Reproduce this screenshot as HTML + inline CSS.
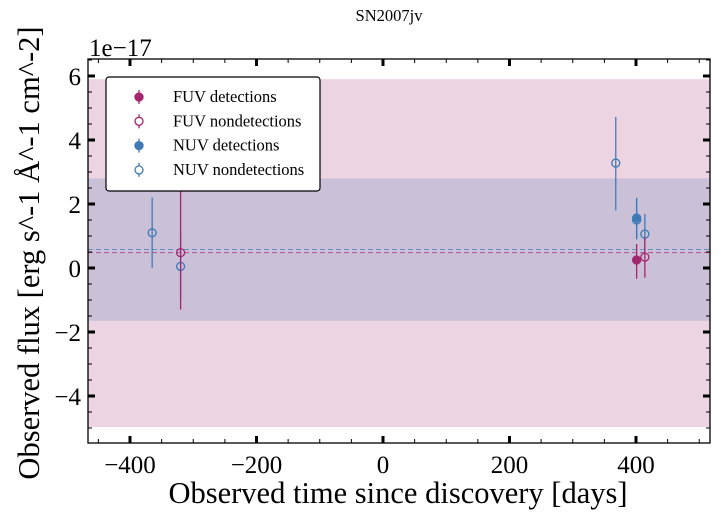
<!DOCTYPE html>
<html><head><meta charset="utf-8"><style>
body{margin:0;background:#fff;}
svg text{font-family:"Liberation Serif",serif;}
</style></head><body>
<svg id="chart" width="718" height="519" xmlns="http://www.w3.org/2000/svg">
<text x="389" y="21" font-size="16.5" text-anchor="middle">SN2007jv</text>
<g id="plot"></g>
</svg>
<script>
const fuvDays=[-320,401,414];
const fuvFlux=[0.48,0.25,0.34];
const fuvLo=[-1.3,-0.34,-0.3];
const fuvHi=[2.4,0.75,0.95];
const fuvDet=[false,true,false];
const nuvDays=[-365,-320,368,401,401,414];
const nuvFlux=[1.1,0.05,3.28,1.56,1.5,1.06];
const nuvLo=[0.0,-1.0,1.8,0.9,0.9,0.4];
const nuvHi=[2.2,1.1,4.72,2.19,2.19,1.69];
const nuvDet=[false,false,false,true,false,false];
const fuvBand=[-4.97,5.9], nuvBand=[-1.65,2.8];
const fuvMean=0.48, nuvMean=0.58;
const xTicks=[-400,-200,0,200,400];
const yTicks=[-4,-2,0,2,4,6];

const L=88,R=710,T=59,B=443;
const X=d=>383+(d)*0.6325;
const Y=v=>268-v*32;
const NS="http://www.w3.org/2000/svg";
const g=document.getElementById('plot');
function mk(tag,a,name,parent){const e=document.createElementNS(NS,tag);for(const k in a)e.setAttribute(k,a[k]);


(parent||g).appendChild(e);return e;}
const FC='#a4266e', NC='#3f7ab4';
mk('rect',{x:L,y:Y(fuvBand[1]),width:R-L,height:Y(fuvBand[0])-Y(fuvBand[1]),fill:'#a4266e',opacity:0.2},'fuv-band');
mk('rect',{x:L,y:Y(nuvBand[1]),width:R-L,height:Y(nuvBand[0])-Y(nuvBand[1]),fill:'#3f7ab4',opacity:0.2},'nuv-band');
mk('line',{x1:L,x2:R,y1:Y(nuvMean),y2:Y(nuvMean),stroke:NC,'stroke-dasharray':'5,3','stroke-width':1,opacity:0.7},'nuv-mean-line');
mk('line',{x1:L,x2:R,y1:Y(fuvMean),y2:Y(fuvMean),stroke:FC,'stroke-dasharray':'5,3','stroke-width':1,opacity:0.7},'fuv-mean-line');
function pts(days,flux,lo,hi,det,c,n){days.forEach((d,i)=>{
 mk('line',{x1:X(d),x2:X(d),y1:Y(lo[i]),y2:Y(hi[i]),stroke:c,'stroke-width':1.3},n+'-errorbar');
 mk('circle',{cx:X(d),cy:Y(flux[i]),r:4,fill:det[i]?c:'none',stroke:c,'stroke-width':1.3},n+'-point');});}
pts(nuvDays,nuvFlux,nuvLo,nuvHi,nuvDet,NC,'nuv');
pts(fuvDays,fuvFlux,fuvLo,fuvHi,fuvDet,FC,'fuv');
mk('rect',{x:L,y:T,width:R-L,height:B-T,fill:'none',stroke:'#000','stroke-width':1.3},'plot-frame');
for(let v=-5;v<=6.5;v+=0.5){const y=Y(v);if(y<T||y>B)continue;const maj=Number.isInteger(v/2);const len=maj?7:4,w=maj?3:1;
 mk('line',{x1:L,x2:L+len,y1:y,y2:y,stroke:'#000','stroke-width':w},'y-tick');
 mk('line',{x1:R,x2:R-len,y1:y,y2:y,stroke:'#000','stroke-width':w},'y-tick');}
for(let d=-450;d<=500;d+=50){const x=X(d);if(x<L||x>R)continue;const maj=d%200===0;const len=maj?7:4,w=maj?3:1;
 mk('line',{x1:x,x2:x,y1:B,y2:B-len,stroke:'#000','stroke-width':w},'x-tick');
 mk('line',{x1:x,x2:x,y1:T,y2:T+len,stroke:'#000','stroke-width':w},'x-tick');}
xTicks.forEach(d=>{const t=mk('text',{x:X(d),y:473,'font-size':25,'text-anchor':'middle'},'x-tick-label');t.textContent=(d<0?'\u2212'+(-d):d);});
yTicks.forEach(v=>{const t=mk('text',{x:81,y:Y(v)+9,'font-size':25,'text-anchor':'end'},'y-tick-label');t.textContent=(v<0?'\u2212'+(-v):v);});
const xl=mk('text',{x:398,y:503,'font-size':30.5,'text-anchor':'middle'},'x-axis-title');xl.textContent='Observed time since discovery [days]';
const yl=mk('text',{x:0,y:0,'font-size':30.5,'text-anchor':'middle',transform:'translate(39,253) rotate(-90)'},'y-axis-title');yl.textContent='Observed flux [erg s^-1 \u00C5^-1 cm^-2]';
const off=mk('text',{x:89,y:56,'font-size':25},'y-offset-label');off.textContent='1e\u221217';
const lg=mk('g',{},'legend');
mk('rect',{x:106,y:77,width:214,height:114,rx:3,fill:'#fff',stroke:'#000','stroke-width':1.2},'legend-box',lg);
const items=[['FUV detections',FC,true],['FUV nondetections',FC,false],['NUV detections',NC,true],['NUV nondetections',NC,false]];
items.forEach((it,i)=>{const y=97+i*24.3;
 mk('line',{x1:139,x2:139,y1:y-7,y2:y+7,stroke:it[1],'stroke-width':1.3},'legend-marker-bar',lg);
 mk('circle',{cx:139,cy:y,r:4,fill:it[2]?it[1]:'#fff',stroke:it[1],'stroke-width':1.3},'legend-marker',lg);
 const t=mk('text',{x:173,y:y+5,'font-size':16.5},'legend-entry',lg);t.textContent=it[0];});
</script>
</body></html>
